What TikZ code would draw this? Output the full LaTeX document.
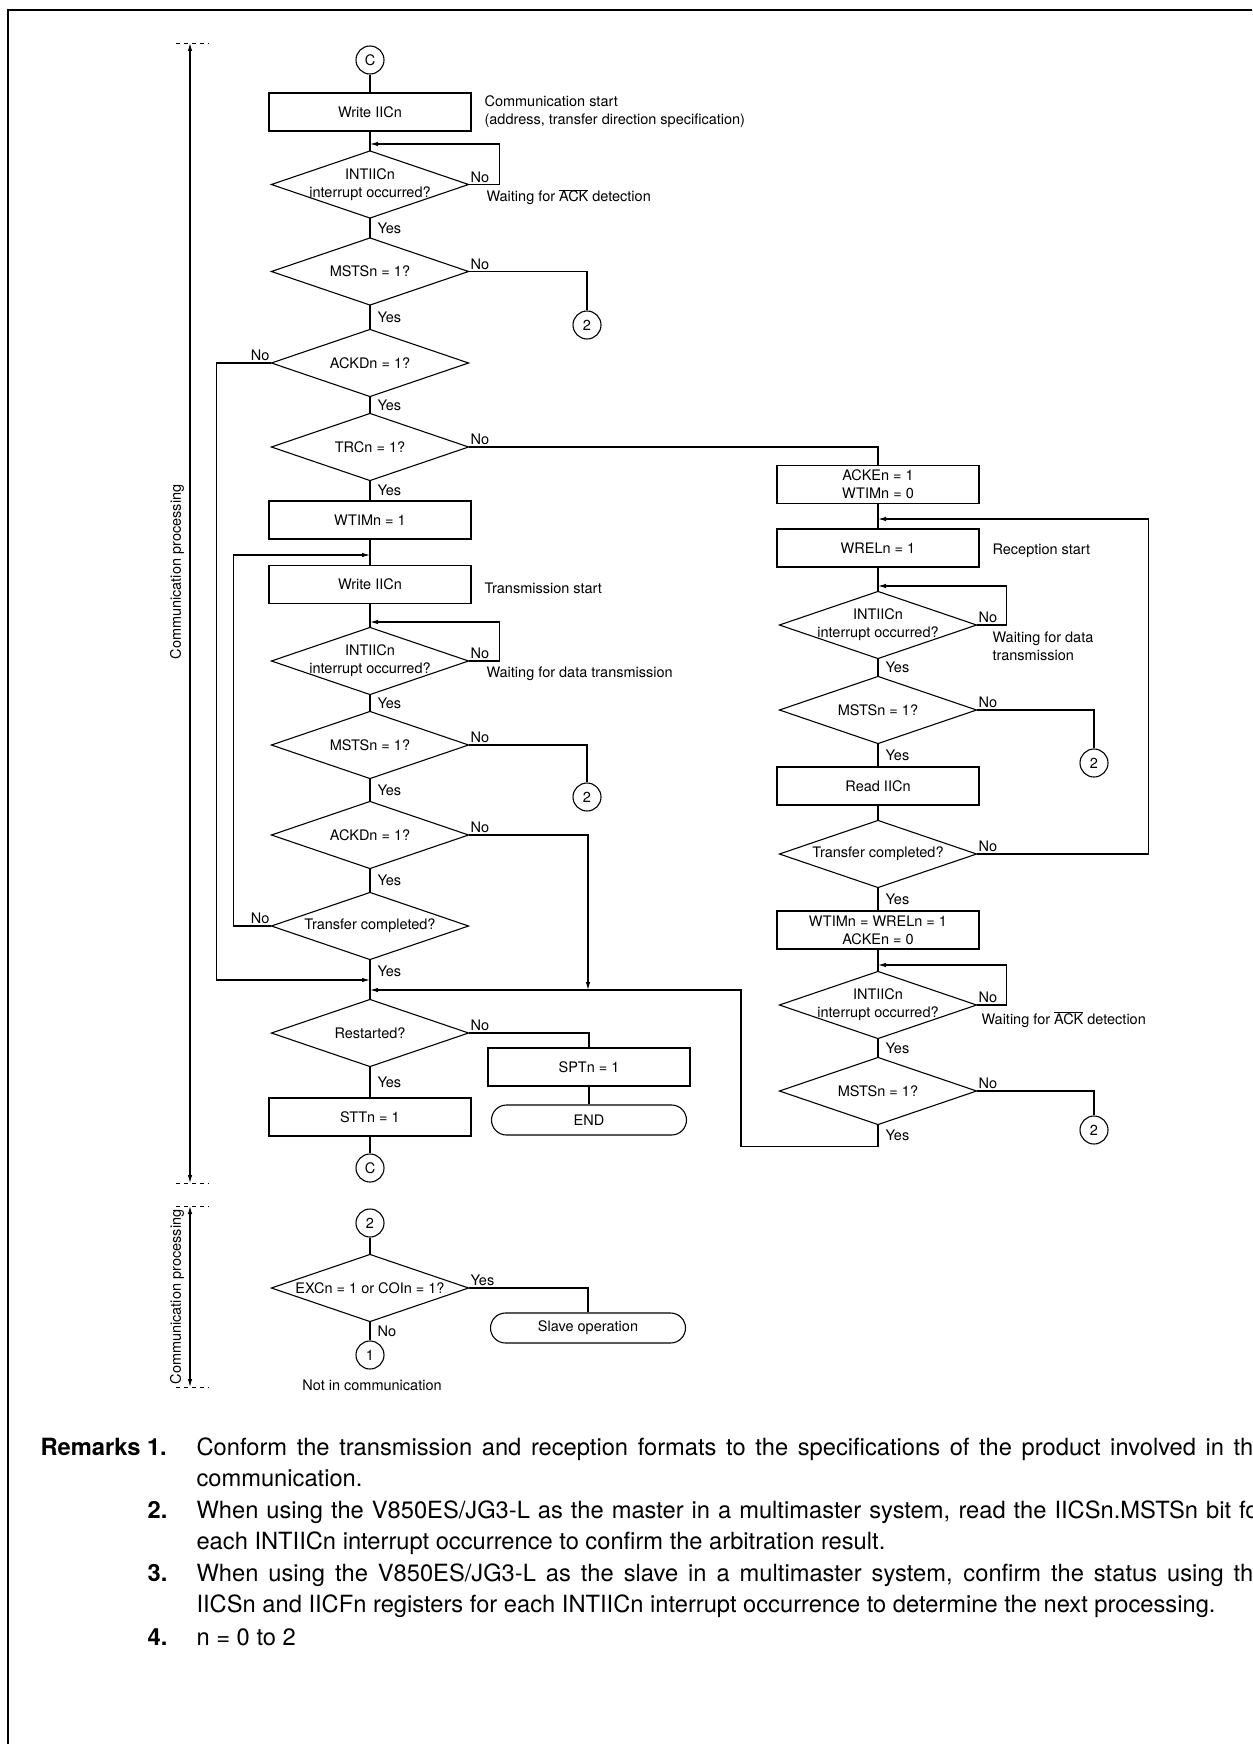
\documentclass[tikz,border=0pt]{standalone}
\usepackage{fontspec}
\setmainfont{TeX Gyre Heros}
\usetikzlibrary{arrows.meta}
\newcommand\remfont{\fontsize{23.7pt}{31.6pt}\selectfont}

\begin{document}
\begin{tikzpicture}[>={Latex[length=8pt,width=4.5pt]}, x=1pt, y=-1pt, line width=1.1pt,
  font=\fontsize{14.5pt}{18pt}\selectfont,
  box/.style={draw, minimum width=202pt, minimum height=38pt, inner sep=0pt, align=center},
  term/.style={draw, rounded corners=15pt, minimum width=195pt, minimum height=30pt, inner sep=0pt},
  dec/.style={minimum width=196pt, minimum height=66pt, inner sep=0pt, align=center},
  conn/.style={draw, circle, minimum size=28pt, inner sep=0pt},
  note/.style={anchor=west, align=left, inner sep=0pt},
  lbl/.style={inner sep=1.5pt},
  yes/.style={right, inner xsep=7pt},
  tick/.style={line width=0.9pt, dash pattern=on 4pt off 4pt},
  para/.style={anchor=base west, inner sep=0pt, text width=1070pt, align=justify, font=\remfont}]
\useasboundingbox (0,0) rectangle (1252,1744);
\clip (0,0) rectangle (1252,1744);
\draw[line width=2.5pt](8,1760) -- (8,10) -- (1260,10);

% master transmission side
\node[name=c_top, conn] at (370,60){C};
\node[name=write_1, box] at (370,112){Write IICn};
\node[name=int_1, dec] at (370,184.5){INTIICn\\interrupt occurred?};
\node[name=msts_1, dec] at (370,271.5){MSTSn = 1?};
\node[name=two_1, conn] at (587,325){2};
\node[name=ackd_1, dec] at (370,363){ACKDn = 1?};
\node[name=trc, dec] at (370,447){TRCn = 1?};
\node[name=wtim, box] at (370,520){WTIMn = 1};
\node[name=write_2, box] at (370,584.5){Write IICn};
\node[name=int_2, dec] at (370,661){INTIICn\\interrupt occurred?};
\node[name=msts_2, dec] at (370,745){MSTSn = 1?};
\node[name=two_2, conn] at (587,797){2};
\node[name=ackd_2, dec] at (370,835){ACKDn = 1?};
\node[name=done_1, dec] at (370,926){Transfer completed?};
\node[name=restart, dec] at (370,1033){Restarted?};
\node[name=spt, box] at (589,1067){SPTn = 1};
\node[name=end, term] at (589,1120){END};
\node[name=stt, box] at (370,1117){STTn = 1};
\node[name=c_bot, conn] at (370,1168){C};

% master reception side
\node[name=acke, box] at (878,484.5){ACKEn = 1\\WTIMn = 0};
\node[name=wrel, box] at (878,548){WRELn = 1};
\node[name=int_3, dec] at (878,625){INTIICn\\interrupt occurred?};
\node[name=msts_3, dec] at (878,710){MSTSn = 1?};
\node[name=two_3, conn] at (1094,763){2};
\node[name=read, box] at (878,786){Read IICn};
\node[name=done_2, dec] at (878,854){Transfer completed?};
\node[name=wtwr, box] at (878,930){WTIMn = WRELn = 1\\ACKEn = 0};
\node[name=int_4, dec] at (878,1005){INTIICn\\interrupt occurred?};
\node[name=msts_4, dec] at (878,1091){MSTSn = 1?};
\node[name=two_4, conn] at (1094,1130){2};

% lost arbitration
\node[name=two_5, conn] at (370,1223){2};
\node[name=exc, dec] at (370,1288){EXCn = 1 or COIn = 1?};
\node[name=slave, term] at (588,1328){Slave operation};
\node[name=one, conn] at (370,1355){1};
\node[name=idle] at (372,1385){Not in communication};

% side notes
\node[name=note_1, note] at (484,112){Communication start\\(address, transfer direction specification)};
\node[name=wait_1, note, anchor=base west] at (486,202){Waiting for $\overline{\mbox{ACK}}$ detection};
\node[name=note_2, note] at (484,588){Transmission start};
\node[name=wait_2, note] at (486,674){Waiting for data transmission};
\node[name=note_3, note] at (992,551){Reception start};
\node[name=wait_3, note] at (992,646){Waiting for data\\transmission};
\node[name=wait_4, note, anchor=base west] at (981,1024){Waiting for $\overline{\mbox{ACK}}$ detection};

\foreach \d in {int_1,msts_1,ackd_1,trc,int_2,msts_2,ackd_2,done_1,restart,int_3,msts_3,done_2,int_4,msts_4,exc}
  \draw(\d.west) -- (\d.north) -- (\d.east) -- (\d.south) -- cycle;

\coordinate (j_1) at (370,144);
\coordinate (j_2) at (370,555);
\coordinate (j_3) at (370,622);
\coordinate (j_4) at (370,980);
\coordinate (j_5) at (370,990);
\coordinate (j_6) at (588,990);
\coordinate (k_1) at (741,990);
\coordinate (j_7) at (878,519);
\coordinate (j_8) at (878,586);
\coordinate (j_9) at (878,965);

\draw(c_top.south) edge(write_1.north);
\draw(write_1.south) edge(int_1.north);
\draw[->](int_1.east) -- node[pos=0, above right, lbl]{No} ++(31,0) |- (j_1);
\draw(int_1.south) edge node[yes]{Yes}(msts_1.north);
\draw(msts_1.east) -| node[pos=0, above right, lbl]{No}(two_1.north);
\draw(msts_1.south) edge node[yes]{Yes}(ackd_1.north);
\draw[->](ackd_1.west) -- node[pos=0, above left, lbl]{No} ++(-55,0) |- (j_4);
\draw(ackd_1.south) edge node[yes]{Yes}(trc.north);
\draw(trc.east) -| node[pos=0, above right, lbl]{No}(acke.north);
\draw(trc.south) edge node[yes]{Yes}(wtim.north);
\draw(wtim.south) edge(write_2.north);
\draw(write_2.south) edge(int_2.north);
\draw[->](int_2.east) -- node[pos=0, above right, lbl]{No} ++(31,0) |- (j_3);
\draw(int_2.south) edge node[yes]{Yes}(msts_2.north);
\draw(msts_2.east) -| node[pos=0, above right, lbl]{No}(two_2.north);
\draw(msts_2.south) edge node[yes]{Yes}(ackd_2.north);
\draw[->](ackd_2.east) -| node[pos=0, above right, lbl]{No}(j_6);
\draw(ackd_2.south) edge node[yes]{Yes}(done_1.north);
\draw[->](done_1.west) -- node[pos=0, above left, lbl]{No} ++(-38,0) |- (j_2);
\draw(done_1.south) edge node[yes, pos=0.3]{Yes}(restart.north);
\draw(restart.east) -| node[pos=0, above right, lbl]{No}(spt.north);
\draw(spt.south) edge(end.north);
\draw(restart.south) edge node[yes]{Yes}(stt.north);
\draw(stt.south) edge(c_bot.north);

\draw(acke.south) edge(wrel.north);
\draw(wrel.south) edge(int_3.north);
\draw[->](int_3.east) -- node[pos=0, above right, lbl]{No} ++(30,0) |- (j_8);
\draw(int_3.south) edge node[yes]{Yes}(msts_3.north);
\draw(msts_3.east) -| node[pos=0, above right, lbl]{No}(two_3.north);
\draw(msts_3.south) edge node[yes]{Yes}(read.north);
\draw(read.south) edge(done_2.north);
\draw[->](done_2.east) -- node[pos=0, above right, lbl]{No} ++(172,0) |- (j_7);
\draw(done_2.south) edge node[yes]{Yes}(wtwr.north);
\draw(wtwr.south) edge(int_4.north);
\draw[->](int_4.east) -- node[pos=0, above right, lbl]{No} ++(30,0) |- (j_9);
\draw(int_4.south) edge node[yes]{Yes}(msts_4.north);
\draw(msts_4.east) -| node[pos=0, above right, lbl]{No}(two_4.north);
\draw[->](msts_4.south) -- node[yes]{Yes} ++(0,22) -| (k_1) -- (j_5);

\draw(two_5.south) edge(exc.north);
\draw(exc.east) -| node[pos=0, above right, lbl]{Yes}(slave.north);
\draw(exc.south) edge node[yes]{No}(one.north);

% communication processing ranges
\coordinate (p_1a) at (190,43);
\coordinate (p_1b) at (190,1183);
\coordinate (p_2a) at (190,1206);
\coordinate (p_2b) at (190,1387);
\draw[<->](p_1a) -- (p_1b);
\draw[<->](p_2a) -- (p_2b);
\foreach \p in {p_1a,p_1b,p_2a,p_2b}
  \draw[tick](\p) ++(-14,0) -- ++(33,0);
\node[name=phase_1, rotate=90] at (177,572){Communication processing};
\node[name=phase_2, rotate=90] at (177,1297){Communication processing};

% remarks
\node[name=rem_head, anchor=base west, inner sep=0pt, font=\remfont\bfseries] at (40,1455){Remarks 1.};
\node[name=rem_1, para] at (196,1455){Conform the transmission and reception formats to the specifications of the product involved in the\linebreak communication.};
\node[name=num_2, anchor=base east, inner sep=0pt, font=\remfont\bfseries] at (168,1518){2.};
\node[name=rem_2, para] at (196,1518){When using the V850ES/JG3-L as the master in a multimaster system, read the IICSn.MSTSn bit for\linebreak each INTIICn interrupt occurrence to confirm the arbitration result.};
\node[name=num_3, anchor=base east, inner sep=0pt, font=\remfont\bfseries] at (168,1581){3.};
\node[name=rem_3, para] at (196,1581){When using the V850ES/JG3-L as the slave in a multimaster system, confirm the status using the\linebreak IICSn and IICFn registers for each INTIICn interrupt occurrence to determine the next processing.};
\node[name=num_4, anchor=base east, inner sep=0pt, font=\remfont\bfseries] at (168,1645){4.};
\node[name=rem_4, para] at (196,1645){n = 0 to 2};
\end{tikzpicture}
\end{document}
